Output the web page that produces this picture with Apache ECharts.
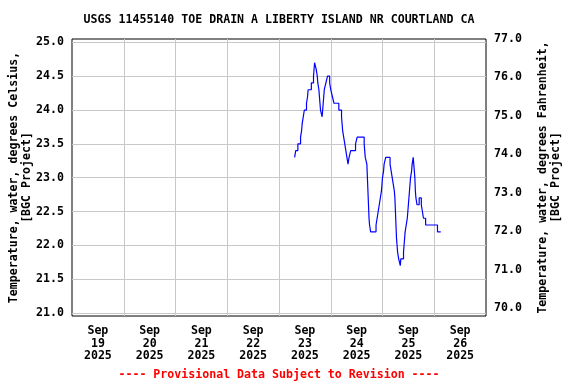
<!DOCTYPE html>
<html>
<head>
<meta charset="utf-8">
<script src="https://cdn.jsdelivr.net/npm/echarts@6/dist/echarts.min.js"></script>
<style>
html,body{margin:0;padding:0;background:#fff;}
#chart{width:576px;height:384px;}
</style>
</head>
<body>
<div id="chart"></div>
<script>
// ---- data ----
const titleText = 'USGS 11455140 TOE DRAIN A LIBERTY ISLAND NR COURTLAND CA';
const footerText = '---- Provisional Data Subject to Revision ----';
const leftAxisName = 'Temperature, water, degrees Celsius,\n[BGC Project]';
const rightAxisName = 'Temperature, water, degrees Fahrenheit,\n[BGC Project]';
const dayLabels = ['Sep\n19\n2025','Sep\n20\n2025','Sep\n21\n2025','Sep\n22\n2025','Sep\n23\n2025','Sep\n24\n2025','Sep\n25\n2025','Sep\n26\n2025'];
const startDay = 19; // Sep 19 00:00 is the left edge of the plot

const times = [
'09-23 07:15','09-23 07:45','09-23 08:45','09-23 10:00','09-23 10:30','09-23 10:45','09-23 11:15','09-23 11:45',
'09-23 12:45','09-23 13:15','09-23 13:30','09-23 15:00','09-23 16:00','09-23 16:15','09-23 16:30','09-23 17:15',
'09-23 17:45','09-23 18:00','09-23 18:30','09-23 18:45','09-23 19:00','09-23 19:15','09-23 20:00','09-23 20:15',
'09-23 20:30','09-23 20:45','09-23 21:00','09-23 21:45','09-23 22:30','09-23 23:30','09-24 00:00','09-24 00:45',
'09-24 01:30','09-24 03:45','09-24 05:00','09-24 05:15','09-24 05:30','09-24 06:00','09-24 06:30','09-24 07:00',
'09-24 07:30','09-24 08:00','09-24 08:30','09-24 09:15','09-24 11:30','09-24 12:15','09-24 15:30','09-24 15:45',
'09-24 16:00','09-24 16:45','09-24 17:00','09-24 17:15','09-24 17:30','09-24 17:45','09-24 18:00','09-24 18:30',
'09-24 21:00','09-24 21:30','09-24 22:00','09-24 22:30','09-24 23:00','09-24 23:30','09-24 23:45','09-25 00:00',
'09-25 00:30','09-25 00:45','09-25 01:30','09-25 03:30','09-25 04:00','09-25 04:30','09-25 05:00','09-25 05:30',
'09-25 05:45','09-25 06:00','09-25 06:15','09-25 06:30','09-25 06:45','09-25 07:00','09-25 07:30','09-25 08:15',
'09-25 08:30','09-25 09:45','09-25 10:00','09-25 10:15','09-25 10:30','09-25 11:00','09-25 11:30','09-25 11:45',
'09-25 12:00','09-25 12:15','09-25 12:30','09-25 12:45','09-25 13:00','09-25 13:30','09-25 13:45','09-25 14:15',
'09-25 14:30','09-25 14:45','09-25 15:00','09-25 15:15','09-25 15:30','09-25 16:00','09-25 17:00','09-25 18:00',
'09-25 18:30','09-25 19:00','09-25 20:00','09-26 01:30','09-26 03:00'
];
const tempC = [
23.3,23.4,23.5,23.6,23.7,23.8,23.9,24.0,
24.1,24.2,24.3,24.4,24.5,24.6,24.7,24.6,
24.5,24.4,24.3,24.2,24.1,24.0,23.9,24.0,
24.1,24.2,24.3,24.4,24.5,24.4,24.3,24.2,
24.1,24.0,23.9,23.8,23.7,23.6,23.5,23.4,
23.3,23.2,23.3,23.4,23.5,23.6,23.5,23.4,
23.3,23.2,23.0,22.8,22.6,22.4,22.3,22.2,
22.3,22.4,22.5,22.6,22.7,22.8,22.9,23.0,
23.1,23.2,23.3,23.2,23.1,23.0,22.9,22.8,
22.7,22.5,22.3,22.1,22.0,21.9,21.8,21.7,
21.8,21.9,22.0,22.1,22.2,22.3,22.4,22.5,
22.6,22.7,22.8,22.9,23.0,23.1,23.2,23.3,
23.2,23.1,23.0,22.8,22.7,22.6,22.7,22.6,
22.5,22.4,22.3,22.2,22.2
];
// axis ranges
const cMin = 20.955, cMax = 25.05;   // Celsius (left)
const fMin = 69.8, fMax = 77.0;      // Fahrenheit (right)

// ---- build ----
function toDays(s){
  const d = parseInt(s.slice(3,5),10);
  const h = parseInt(s.slice(6,8),10);
  const m = parseInt(s.slice(9,11),10);
  return (d - startDay) + (h + m/60)/24;
}
const seriesData = times.map((t,i)=>[toDays(t), tempC[i]]);

const FONT = 'DejaVu Sans Mono';
const txt = {fontFamily: FONT, fontWeight: 'bold', fontSize: 11.6, color: '#000'};
const onStep = (v, step) => Math.abs(v/step - Math.round(v/step)) < 1e-6;

const chart = echarts.init(document.getElementById('chart'), null, {renderer: 'canvas'});
chart.setOption({
  animation: false,
  backgroundColor: '#fff',
  grid: {left: 72, right: 90, top: 39, bottom: 68, containLabel: false, outerBoundsMode: 'none',
         show: true, borderColor: '#000', borderWidth: 1, backgroundColor: 'transparent'},
  graphic: [
    {type: 'text', x: 279, y: 20, style: {text: titleText, textAlign: 'center', textVerticalAlign: 'middle', fill: '#000', font: 'bold 11.6px "DejaVu Sans Mono"'}},
    {type: 'text', x: 279, y: 375, style: {text: footerText, textAlign: 'center', textVerticalAlign: 'middle', fill: '#ff0000', font: 'bold 11.6px "DejaVu Sans Mono"'}}
  ],
  xAxis: [
    {type: 'value', min: 0, max: 8, interval: 1, gridIndex: 0,
     axisLine: {show: false}, axisTick: {show: false}, axisLabel: {show: false},
     splitLine: {show: true, showMinLine: false, showMaxLine: false, lineStyle: {color: '#c8c8c8', width: 1}}},
    {type: 'category', data: dayLabels, boundaryGap: true, position: 'bottom', gridIndex: 0,
     axisLine: {show: false}, axisTick: {show: false}, splitLine: {show: false},
     axisLabel: Object.assign({margin: 9, lineHeight: 12.5, interval: 0}, txt)}
  ],
  yAxis: [
    {type: 'value', min: cMin, max: cMax, minInterval: 0.5, maxInterval: 0.5, position: 'left',
     name: leftAxisName, nameLocation: 'middle', nameRotate: 90, nameGap: 39, nameMoveOverlap: false,
     nameTextStyle: Object.assign({align: 'center', lineHeight: 13}, txt),
     axisLine: {show: false}, axisTick: {show: false},
     axisLabel: Object.assign({margin: 8, formatter: v => onStep(v, 0.5) ? v.toFixed(1) : ''}, txt),
     splitLine: {show: true, showMinLine: false, showMaxLine: false, lineStyle: {color: '#c8c8c8', width: 1}}},
    {type: 'value', min: fMin, max: fMax, minInterval: 1, maxInterval: 1, position: 'right',
     name: rightAxisName, nameLocation: 'middle', nameRotate: 90, nameGap: 50,
     nameTextStyle: Object.assign({align: 'center', lineHeight: 13}, txt),
     axisLine: {show: false}, axisTick: {show: false},
     axisLabel: Object.assign({margin: 8, formatter: v => onStep(v, 1) ? v.toFixed(1) : ''}, txt),
     splitLine: {show: false}}
  ],
  series: [
    {type: 'line', xAxisIndex: 0, yAxisIndex: 0, data: seriesData, step: 'end',
     showSymbol: false, symbol: 'none', lineStyle: {color: '#0000ff', width: 1.2}, silent: true}
  ]
});
</script>
</body>
</html>
